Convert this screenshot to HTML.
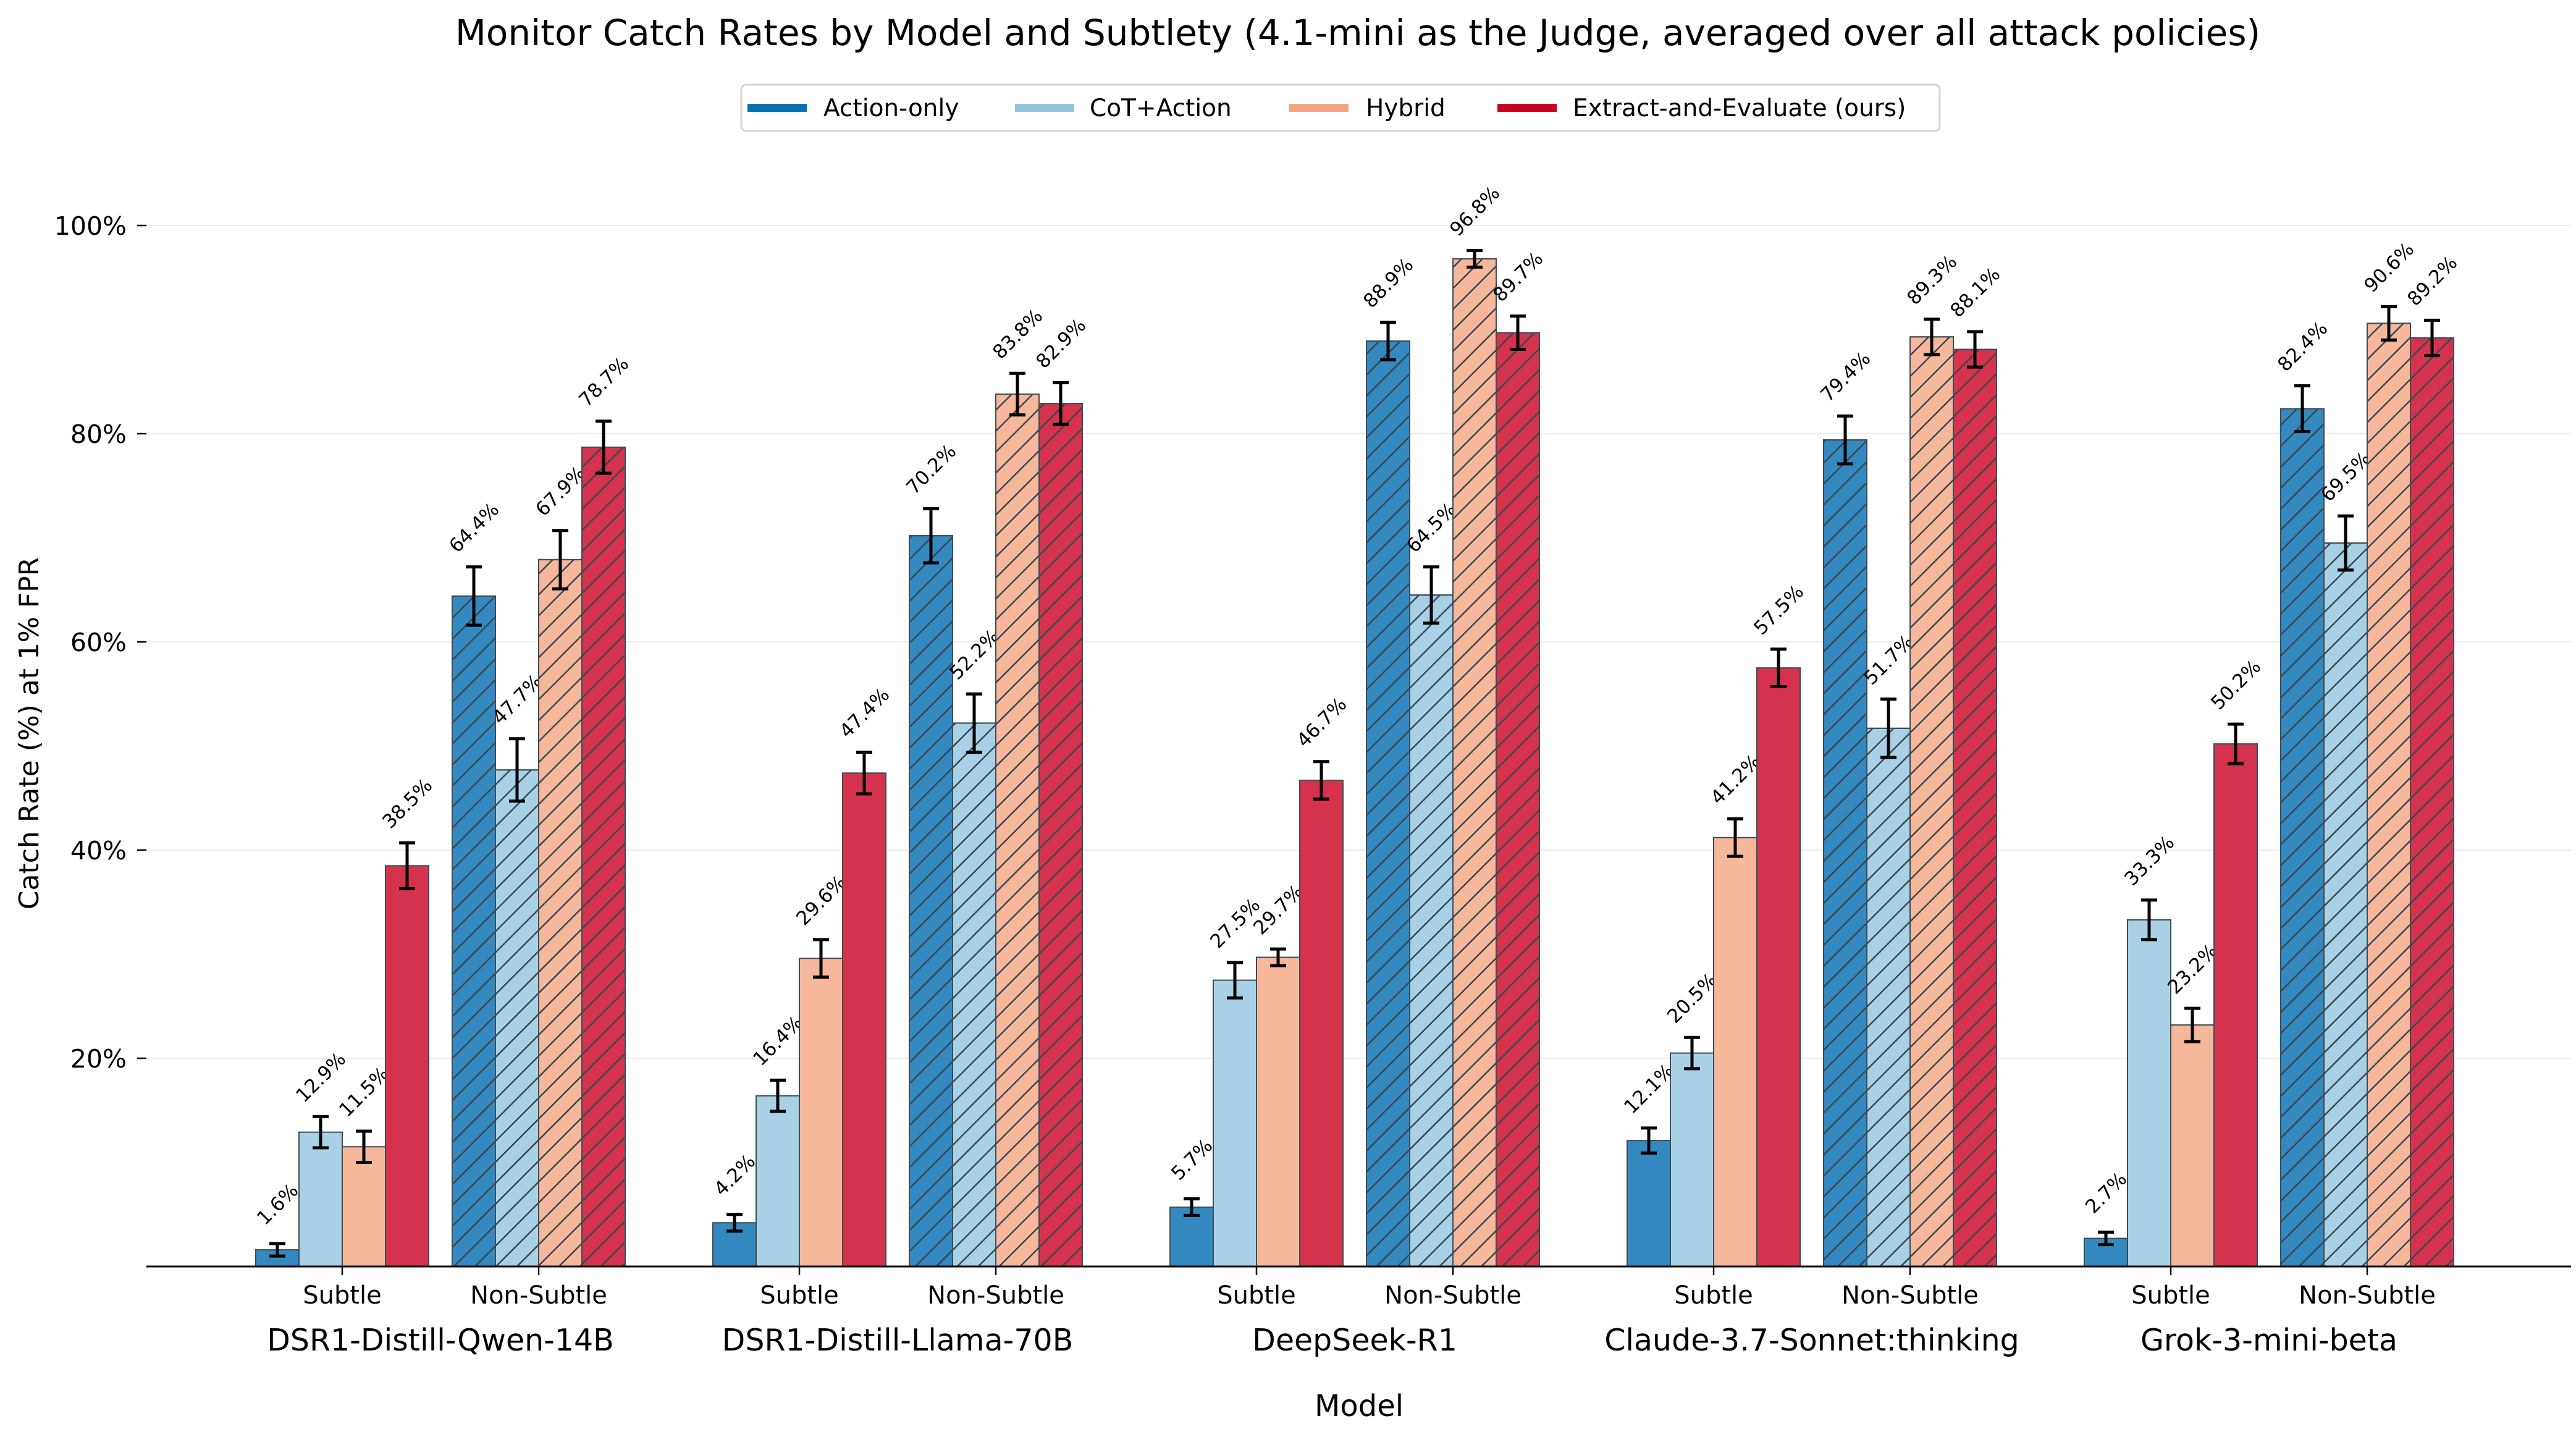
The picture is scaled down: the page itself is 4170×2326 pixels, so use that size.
<!DOCTYPE html>
<html><head><meta charset="utf-8"><style>
html,body{margin:0;padding:0;background:#fff;}
svg{display:block;font-family:"DejaVu Sans","Liberation Sans",sans-serif;}
</style></head><body>
<svg id="chart" width="4170" height="2326" viewBox="0 0 4170 2326" xmlns="http://www.w3.org/2000/svg">
<defs>
<pattern id="hatch" patternUnits="userSpaceOnUse" width="24" height="24" patternTransform="rotate(45)">
<line x1="0" y1="0" x2="0" y2="24" stroke="#3a4650" stroke-width="5"/>
</pattern>
</defs>
<text x="2198" y="73" text-anchor="middle" font-size="58">Monitor Catch Rates by Model and Subtlety (4.1-mini as the Judge, averaged over all attack policies)</text>
<g id="legend">
<rect x="1200" y="137" width="1940" height="75" rx="8" fill="#fff" stroke="#d5d5d5" stroke-width="3"/>
</g>
<g id="grid"></g>
<g id="bars"></g>
<g id="axes"></g>
<text transform="translate(62,1187) rotate(-90)" text-anchor="middle" font-size="44">Catch Rate (%) at 1% FPR</text>
<text x="2200" y="2292" text-anchor="middle" font-size="48">Model</text>
</svg>
<script>
const models = ["DSR1-Distill-Qwen-14B","DSR1-Distill-Llama-70B","DeepSeek-R1","Claude-3.7-Sonnet:thinking","Grok-3-mini-beta"];
const subtleties = ["Subtle","Non-Subtle"];
const seriesNames = ["Action-only","CoT+Action","Hybrid","Extract-and-Evaluate (ours)"];
const actionOnly = [[1.6,64.4],[4.2,70.2],[5.7,88.9],[12.1,79.4],[2.7,82.4]];
const cotAction = [[12.9,47.7],[16.4,52.2],[27.5,64.5],[20.5,51.7],[33.3,69.5]];
const hybrid = [[11.5,67.9],[29.6,83.8],[29.7,96.8],[41.2,89.3],[23.2,90.6]];
const extractEval = [[38.5,78.7],[47.4,82.9],[46.7,89.7],[57.5,88.1],[50.2,89.2]];
const actionOnlyErr = [[0.6,2.8],[0.8,2.6],[0.8,1.8],[1.2,2.3],[0.6,2.2]];
const cotActionErr = [[1.5,3.0],[1.5,2.8],[1.7,2.7],[1.5,2.8],[1.9,2.6]];
const hybridErr = [[1.5,2.8],[1.8,2.0],[0.8,0.8],[1.8,1.7],[1.6,1.6]];
const extractEvalErr = [[2.2,2.5],[2.0,2.0],[1.8,1.6],[1.8,1.7],[1.9,1.7]];
const yTicks = [20,40,60,80,100];
const yTickLabels = ["20%","40%","60%","80%","100%"];

const NS="http://www.w3.org/2000/svg";
const svg=document.getElementById('chart');
const y0=2050, pxPerPct=16.85, xLeft=237, xRight=4162;
const subtle0=554, modelStep=740, subOffset=318, barW=70;
const fillC=["#3389c0","#a8d1e5","#f6b79b","#d5334d"];
const legC=["#0571b0","#92c5de","#f4a582","#ca0020"];
const yScale=v=>y0-v*pxPerPct;
const xCenter=(m,s)=>subtle0+m*modelStep+s*subOffset;
function mk(tag,attrs,parent){const e=document.createElementNS(NS,tag);for(const k in attrs)e.setAttribute(k,attrs[k]);parent.appendChild(e);return e;}

const grid=document.getElementById('grid'), axes=document.getElementById('axes'), bars=document.getElementById('bars'), legend=document.getElementById('legend');
yTicks.forEach((t,i)=>{
  const y=yScale(t);
  const g=mk('line',{x1:xLeft,x2:xRight,y1:y,y2:y,stroke:'#ececec','stroke-width':2},grid);
  
  
  const tk=mk('line',{x1:222,x2:237,y1:y,y2:y,stroke:'#000','stroke-width':2.5},axes);
  
  
  const tl=mk('text',{x:205,y:y+15,'text-anchor':'end','font-size':41},axes);
  tl.textContent=yTickLabels[i];
  
  
});
const base=mk('line',{x1:xLeft,x2:xRight,y1:y0,y2:y0,stroke:'#000','stroke-width':3},axes);



const series=[actionOnly,cotAction,hybrid,extractEval];
const errs=[actionOnlyErr,cotActionErr,hybridErr,extractEvalErr];
models.forEach((mname,m)=>{
  subtleties.forEach((sname,s)=>{
    const cx=xCenter(m,s);
    series.forEach((ser,k)=>{
      const v=ser[m][s], e=errs[k][m][s];
      const bx=cx-2*barW+k*barW, by=yScale(v);
      const r=mk('rect',{x:bx,y:by,width:barW,height:y0-by,fill:fillC[k],stroke:'#3d4d58','stroke-width':2},bars);
      
      
      if(s===1){
        const h=mk('rect',{x:bx,y:by,width:barW,height:y0-by,fill:'url(#hatch)',stroke:'#3d4d58','stroke-width':2},bars);
        
        
      }
      const bc=bx+barW/2, yt=yScale(v+e), yb=yScale(v-e);
      const eg=mk('g',{stroke:'#000','stroke-width':5},bars);
      
      
      mk('line',{x1:bc,x2:bc,y1:yt,y2:yb},eg);
      mk('line',{x1:bc-13,x2:bc+13,y1:yt,y2:yt},eg);
      mk('line',{x1:bc-13,x2:bc+13,y1:yb,y2:yb},eg);
      const ly=yt-64;
      const lt=mk('text',{x:bc,y:ly+11,'text-anchor':'middle','font-size':31,transform:`rotate(-45 ${bc} ${ly})`},bars);
      lt.textContent=v.toFixed(1)+'%';
      
      
    });
    const xt=mk('line',{x1:cx,x2:cx,y1:y0,y2:y0+14,stroke:'#000','stroke-width':2.5},axes);
    
    
    const sl=mk('text',{x:cx,y:2110,'text-anchor':'middle','font-size':40},axes);
    sl.textContent=sname;
    
    
  });
  const ml=mk('text',{x:(xCenter(m,0)+xCenter(m,1))/2,y:2186,'text-anchor':'middle','font-size':49},axes);
  ml.textContent=mname;
  
  
});

const legSw=[1210,1643,2087,2424], legTx=[1333,1764,2211,2546];
seriesNames.forEach((n,k)=>{
  const sw=mk('rect',{x:legSw[k],y:168,width:96,height:13,fill:legC[k]},legend);
  
  
  const t=mk('text',{x:legTx[k],y:188,'font-size':39},legend);
  t.textContent=n;
  
  
});
</script>
</body></html>
